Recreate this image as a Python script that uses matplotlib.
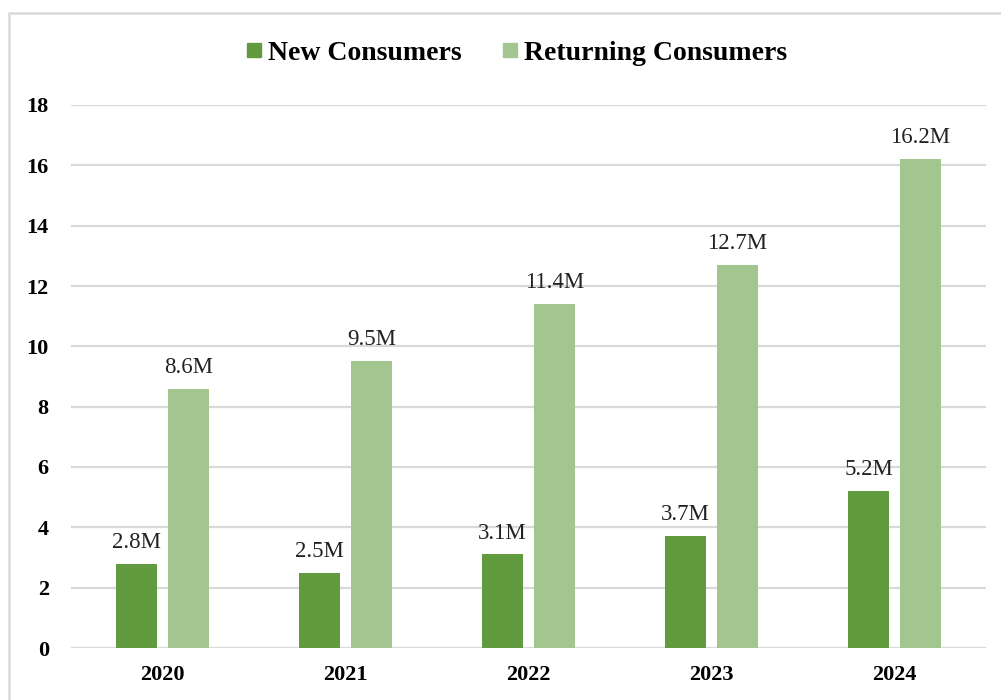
import matplotlib
matplotlib.use("Agg")
import matplotlib.pyplot as plt
from matplotlib.patches import Rectangle
from matplotlib.lines import Line2D
import numpy as np

years = ["2020", "2021", "2022", "2023", "2024"]
new_consumers = [2.8, 2.5, 3.1, 3.7, 5.2]
returning_consumers = [8.6, 9.5, 11.4, 12.7, 16.2]
series_names = ["New Consumers", "Returning Consumers"]
yticks = [0, 2, 4, 6, 8, 10, 12, 14, 16, 18]

dark_green = "#629B3F"
light_green = "#A3C590"
grid_col = "#D9D9D9"

plt.rcParams["font.family"] = ["Liberation Serif", "DejaVu Serif"]

fig = plt.figure(figsize=(10.01, 7.0), dpi=100)
W, H = 1001, 700
ax = fig.add_axes([71 / W, 1 - 648 / H, (986 - 71) / W, (648 - 105) / H])

x = np.arange(len(years))
bw = 0.224
off = 0.142
b1 = ax.bar(x - off, new_consumers, bw, color=dark_green, zorder=3)
b2 = ax.bar(x + off, returning_consumers, bw, color=light_green, zorder=3)

for bars, vals in ((b1, new_consumers), (b2, returning_consumers)):
    for rect, v in zip(bars, vals):
        ax.annotate(f"{v:.1f}M", (rect.get_x() + rect.get_width() / 2, v),
                    xytext=(0, 11.5), textcoords="offset points",
                    ha="center", va="baseline", fontsize=16.5, color="#222222")

ax.set_xlim(-0.5, len(years) - 0.5)
ax.set_ylim(0, 18)
ax.set_yticks(yticks)
ax.set_yticklabels([str(t) for t in yticks], fontweight="bold", fontsize=16)
ax.set_xticks(x)
ax.set_xticklabels(years, fontweight="bold", fontsize=16)
ax.tick_params(axis="y", length=0, pad=16)
ax.tick_params(axis="x", length=0, pad=12)
for s in ax.spines.values():
    s.set_visible(False)
ax.yaxis.grid(True, color=grid_col, linewidth=1.6, zorder=0)
ax.set_axisbelow(True)

handles = [Line2D([], [], marker="s", linestyle="none", markersize=9.5,
                  color=c) for c in (dark_green, light_green)]
fig.legend(handles, series_names, loc="center", bbox_to_anchor=(515 / W, 1 - 53 / H),
           ncol=2, frameon=False, prop={"weight": "bold", "size": 20},
           handletextpad=0.1, columnspacing=1.35, handlelength=0.8)

fig.patches.append(Rectangle((9 / W, -0.1), 1.2, 1 - 13 / H + 0.1,
                             transform=fig.transFigure, fill=False,
                             edgecolor=grid_col, linewidth=1.8))

fig.savefig("out.png", dpi=100)
